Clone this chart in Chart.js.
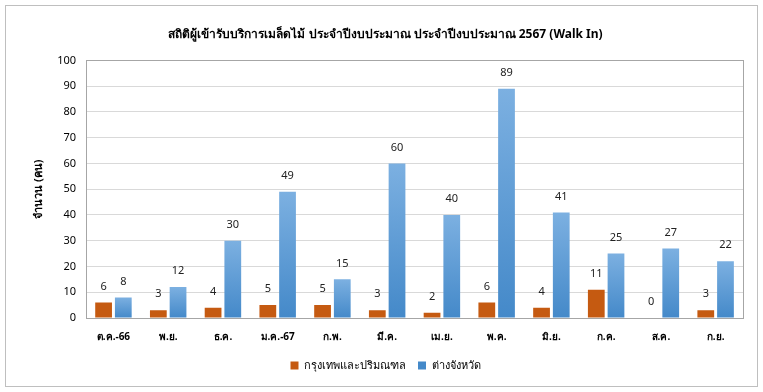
<!DOCTYPE html>
<html lang="th">
<head>
<meta charset="UTF-8">
<title>สถิติผู้เข้ารับบริการเมล็ดไม้</title>
<script src="https://cdn.jsdelivr.net/npm/chart.js"></script>
<style>
  body { margin: 0; background: #fff; }
  #box { position: absolute; left: 5px; top: 5px; width: 751px; height: 380px; border: 1px solid #bfbfbf; }
</style>
</head>
<body>
<div id="box"><canvas id="chart" width="751" height="380"></canvas></div>
<script>
const months = ["ต.ค.-66", "พ.ย.", "ธ.ค.", "ม.ค.-67", "ก.พ.", "มี.ค.", "เม.ย.", "พ.ค.", "มิ.ย.", "ก.ค.", "ส.ค.", "ก.ย."];
const bangkok = [6, 3, 4, 5, 5, 3, 2, 6, 4, 11, 0, 3];
const provinces = [8, 12, 30, 49, 15, 60, 40, 89, 41, 25, 27, 22];

const FONT = "Tahoma, 'Noto Sans', sans-serif";

// value labels above each bar + frame around plot area
const extras = {
  id: "extras",
  afterDatasetsDraw(chart) {
    const ctx = chart.ctx;
    const a = chart.chartArea;
    ctx.save();
    ctx.strokeStyle = "#a6a6a6";
    ctx.lineWidth = 1;
    ctx.strokeRect(Math.round(a.left) + 0.5, Math.round(a.top) + 0.5, Math.round(a.right - a.left), Math.round(a.bottom - a.top));
    ctx.fillStyle = "#222";
    ctx.font = "11px " + FONT;
    ctx.textAlign = "center";
    ctx.textBaseline = "middle";
    chart.data.datasets.forEach((ds, i) => {
      chart.getDatasetMeta(i).data.forEach((bar, j) => {
        ctx.fillText(String(ds.data[j]), bar.x, bar.y - 16);
      });
    });
    ctx.restore();
  }
};

function blueFill(context) {
  const chart = context.chart;
  const a = chart.chartArea;
  if (!a || context.raw === undefined) return "#5b9bd5";
  const top = chart.scales.y.getPixelForValue(context.raw);
  if (a.bottom - top < 1) return "#5b9bd5";
  const g = chart.ctx.createLinearGradient(0, top, 0, a.bottom);
  g.addColorStop(0, "#7cb0e1");
  g.addColorStop(1, "#4489c9");
  return g;
}

new Chart(document.getElementById("chart"), {
  type: "bar",
  data: {
    labels: months,
    datasets: [
      { label: "กรุงเทพและปริมณฑล", data: bangkok, backgroundColor: "#c55a11" },
      { label: "ต่างจังหวัด", data: provinces, backgroundColor: blueFill }
    ]
  },
  options: {
    responsive: false,
    animation: false,
    categoryPercentage: 0.72,
    barPercentage: 0.85,
    layout: { padding: { left: 22, right: 14, top: 4, bottom: 5 } },
    plugins: {
      title: {
        display: true,
        text: "สถิติผู้เข้ารับบริการเมล็ดไม้ ประจำปีงบประมาณ ประจำปีงบประมาณ 2567 (Walk In)",
        color: "#000",
        font: { family: FONT, size: 12, weight: "bold" },
        padding: { top: 17, bottom: 19 }
      },
      legend: {
        position: "bottom",
        labels: {
          color: "#000",
          font: { family: FONT, size: 11 },
          boxWidth: 8,
          boxHeight: 8,
          padding: 12
        }
      },
      tooltip: { enabled: false }
    },
    scales: {
      x: {
        grid: { display: false },
        border: { color: "#a6a6a6" },
        ticks: { color: "#000", font: { family: FONT, size: 10, weight: "bold" }, padding: 5, maxRotation: 0 }
      },
      y: {
        min: 0,
        max: 100,
        ticks: { stepSize: 10, color: "#000", font: { family: FONT, size: 11 }, padding: 10 },
        grid: { color: "#d9d9d9", drawTicks: false },
        border: { color: "#a6a6a6" },
        title: {
          display: true,
          text: "จำนวน (คน)",
          color: "#000",
          font: { family: FONT, size: 11, weight: "bold" },
          padding: { bottom: 2 }
        }
      }
    }
  },
  plugins: [extras]
});
</script>
</body>
</html>
